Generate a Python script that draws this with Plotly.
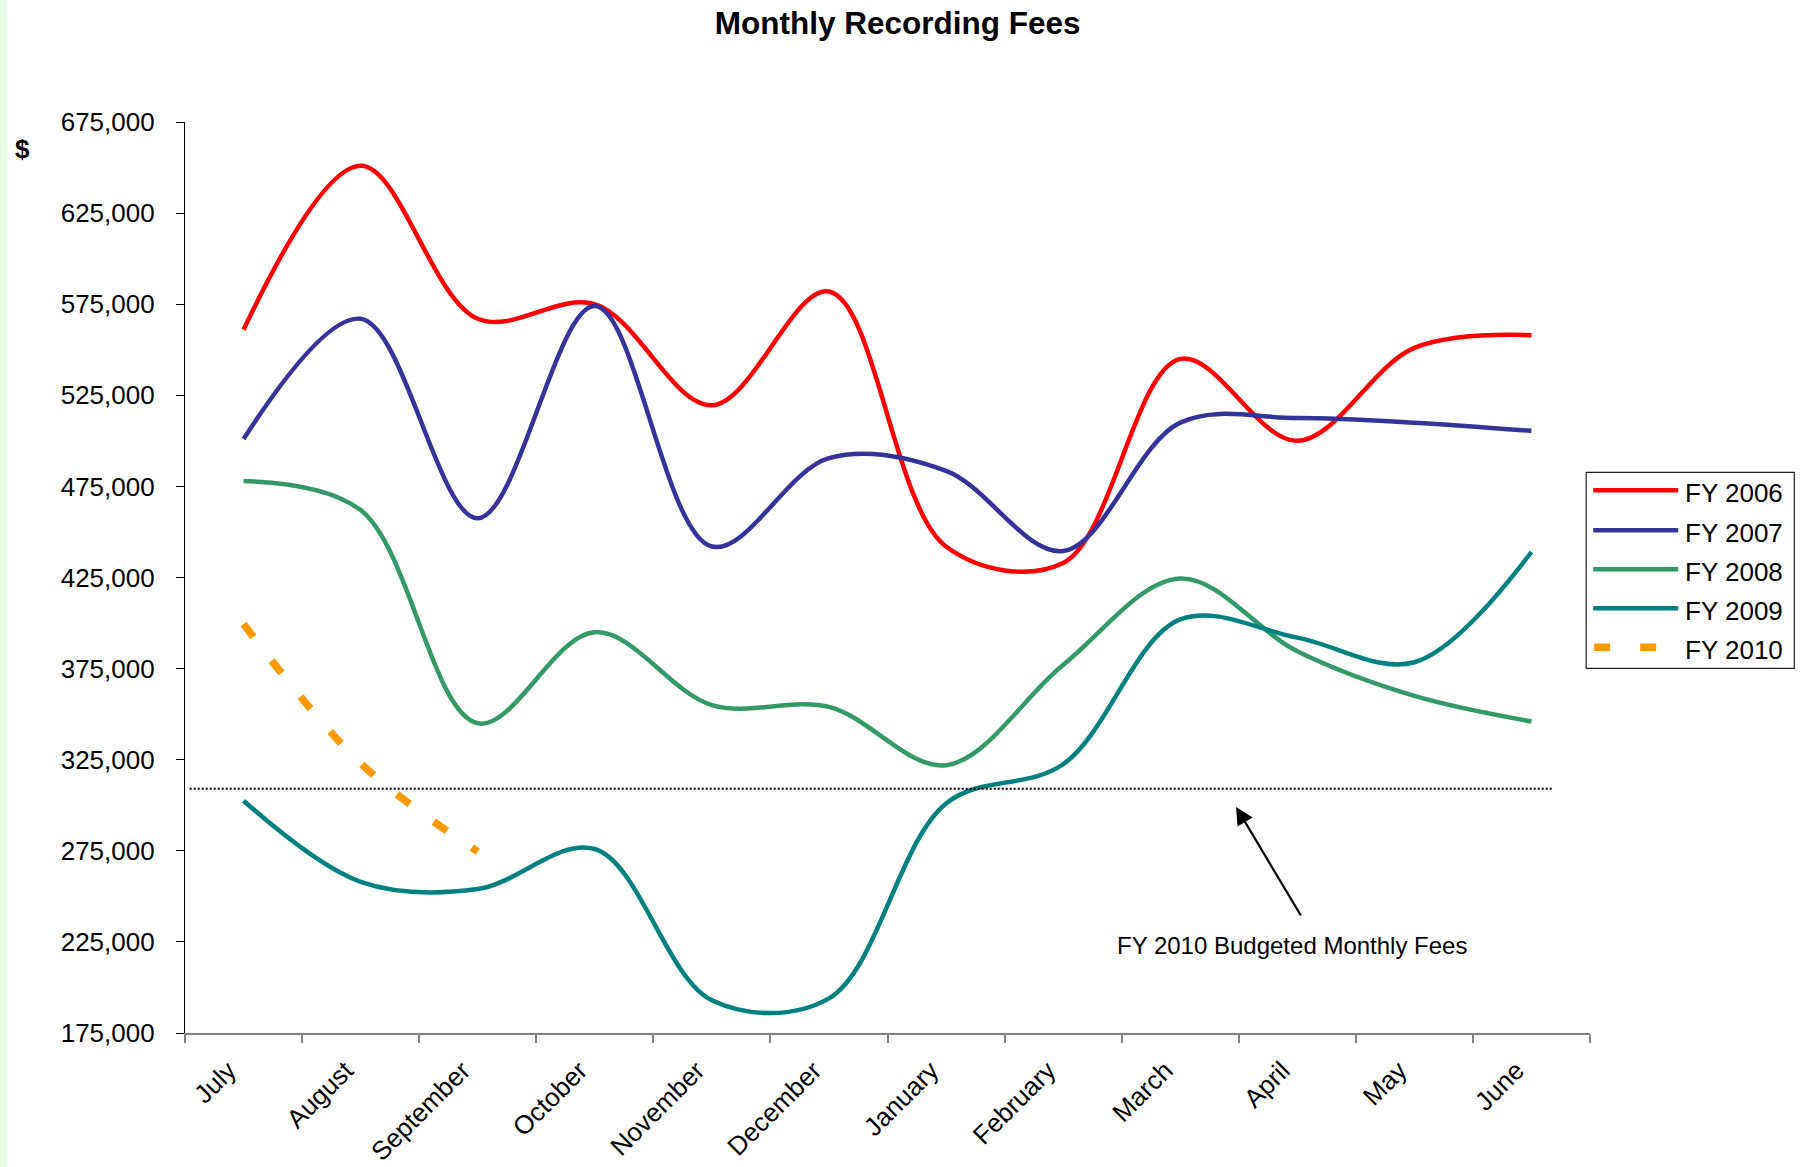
import plotly.graph_objects as go

months = ["July", "August", "September", "October", "November", "December",
          "January", "February", "March", "April", "May", "June"]

fy2006 = [561000, 651000, 567000, 575000, 519500, 582000, 442000, 433000, 545000, 500000, 551000, 558000]
fy2007 = [501000, 567000, 457500, 574000, 442000, 490500, 483500, 439500, 510000, 512500, 510000, 505500]
fy2008 = [478000, 462000, 345000, 395000, 355000, 354000, 322000, 377000, 424500, 384500, 360000, 346000]
fy2009 = [302500, 258000, 254000, 276000, 193000, 194000, 301000, 322500, 402000, 392000, 378500, 439000]
fy2010 = [399500, 323000, 274500]

series_names = ["FY 2006", "FY 2007", "FY 2008", "FY 2009", "FY 2010"]
series_values = [fy2006, fy2007, fy2008, fy2009, fy2010]
series_colors = ["#FF0000", "#333399", "#339966", "#008080", "#FF9900"]

budget_value = 309000
budget_label = "FY 2010 Budgeted Monthly Fees"
y_ticks = list(range(175000, 675001, 50000))

FONT = "Liberation Sans, Arial, sans-serif"
W, H = 1804, 1167
L, R, T, B = 185.3, 1589.8, 121.7, 1032.7
PW, PH = R - L, B - T


def px(x):
    return (x - L) / PW


def py(y):
    return (B - y) / PH


fig = go.Figure()
for name, vals, col in zip(series_names, series_values, series_colors):
    dashed = name == "FY 2010"
    fig.add_trace(go.Scatter(
        x=months[:len(vals)], y=vals, name=name, mode="lines",
        line=dict(color=col, width=7.5 if dashed else 4.5, shape="spline", smoothing=1,
                  dash="16px,30px" if dashed else "solid"),
        showlegend=False,
    ))

shapes = []
annotations = []

# left light green strip
shapes.append(dict(type="rect", xref="paper", yref="paper", x0=px(0), x1=px(7.3),
                   y0=py(H), y1=py(0), fillcolor="#e6fde6", line=dict(width=0), layer="below"))

# budget dotted line
shapes.append(dict(type="line", xref="paper", yref="y", x0=px(190), x1=px(1553),
                   y0=budget_value, y1=budget_value, line=dict(color="black", width=2, dash="2px,2px")))

# arrow
annotations.append(dict(xref="paper", yref="paper", x=px(1236), y=py(806.7), text="",
                        showarrow=True, axref="pixel", ayref="pixel", ax=1301.7 - 1236, ay=916.7 - 806.7,
                        arrowhead=2, arrowsize=1.6, arrowwidth=2.2, arrowcolor="black",
                        standoff=0, startstandoff=0))
annotations.append(dict(xref="paper", yref="paper", x=px(1292), y=py(945), text=budget_label,
                        showarrow=False, xanchor="center", yanchor="middle",
                        font=dict(family=FONT, size=24, color="black")))

# "$" axis label
annotations.append(dict(xref="paper", yref="paper", x=px(23), y=py(149), text="$",
                        showarrow=False, xanchor="center", yanchor="middle",
                        font=dict(family=FONT, size=26, color="black", weight="bold")))

# custom legend
shapes.append(dict(type="rect", xref="paper", yref="paper", x0=px(1586), x1=px(1794),
                   y0=py(668), y1=py(472), line=dict(color="#222222", width=1.2), fillcolor="white"))
row_y = [490, 530, 569, 608, 647]
for name, col, ry in zip(series_names, series_colors, row_y):
    if name == "FY 2010":
        for x0 in (1594, 1640):
            shapes.append(dict(type="line", xref="paper", yref="paper", x0=px(x0), x1=px(x0 + 16),
                               y0=py(ry), y1=py(ry), line=dict(color=col, width=7.5)))
    else:
        shapes.append(dict(type="line", xref="paper", yref="paper", x0=px(1593), x1=px(1678),
                           y0=py(ry), y1=py(ry), line=dict(color=col, width=4.5)))
    annotations.append(dict(xref="paper", yref="paper", x=px(1683), y=py(ry + 3), text=name,
                            showarrow=False, xanchor="left", yanchor="middle",
                            font=dict(family=FONT, size=26, color="black")))

fig.update_layout(
    width=W, height=H,
    margin=dict(l=L, r=W - R, t=T, b=H - B, pad=0, autoexpand=False),
    paper_bgcolor="white", plot_bgcolor="white",
    title=dict(text="Monthly Recording Fees", x=897.6 / W, xref="container", xanchor="center",
               y=1 - 22.5 / H, yref="container", yanchor="middle",
               font=dict(family=FONT, size=31.5, color="black", weight="bold")),
    shapes=shapes, annotations=annotations,
    showlegend=False,
    xaxis=dict(type="category", categoryorder="array", categoryarray=months, range=[-0.5, 11.5],
               automargin=False,
               showgrid=False, zeroline=False, showline=True, linecolor="#808080", linewidth=2,
               ticks="outside", ticklen=8, tickcolor="#808080", tickwidth=1.5, tickson="boundaries",
               tickangle=-45, ticklabelshift=-15, ticklabelstandoff=10,
               tickfont=dict(family=FONT, size=26, color="black")),
    yaxis=dict(range=[175000, 675000], tickvals=y_ticks, tickformat=",d", automargin=False,
               showgrid=False, zeroline=False, showline=True, linecolor="black", linewidth=1.2,
               ticks="outside", ticklen=8, tickcolor="black", tickwidth=1.2,
               ticklabelstandoff=16,
               tickfont=dict(family=FONT, size=26, color="black")),
)

fig.write_html("out.html", config={"displayModeBar": False},
               post_script="document.body.style.margin='0';")
